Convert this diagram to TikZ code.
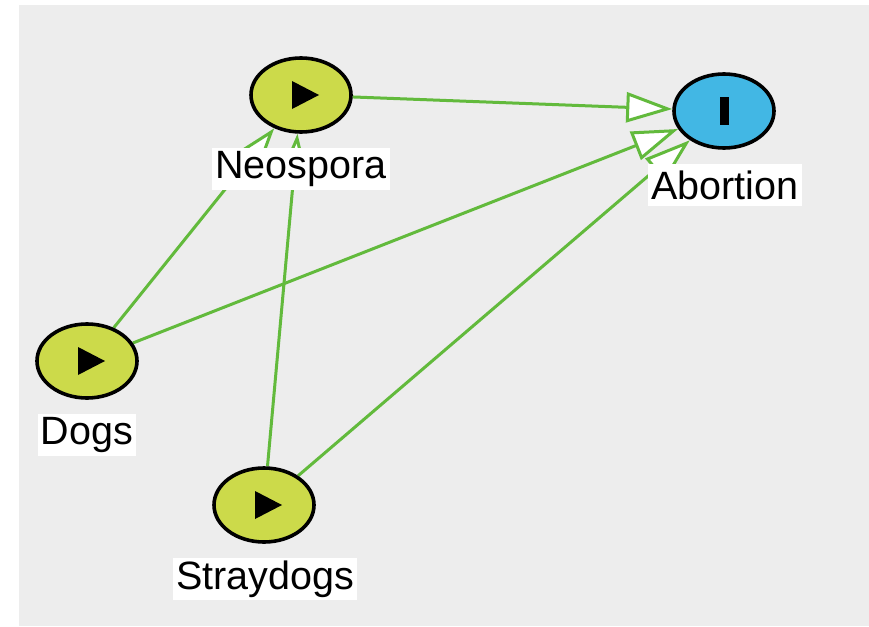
\documentclass[tikz,border=0pt]{standalone}
\usepackage{fontspec}
\setmainfont{Liberation Sans}
\usetikzlibrary{shapes.geometric,arrows.meta,backgrounds}
\definecolor{bggray}{RGB}{237,237,237}
\definecolor{edgegreen}{RGB}{98,186,60}
\definecolor{limefill}{RGB}{204,218,74}
\definecolor{skyfill}{RGB}{66,183,228}
\tikzset{
  var/.style={ellipse, draw=black, line width=3.6pt, minimum width=100pt,
    minimum height=74pt, inner sep=0pt},
  cause/.style={var, fill=limefill},
  effect/.style={var, fill=skyfill},
  tag/.style={fill=white, inner xsep=3pt, inner ysep=0pt, minimum height=42pt,
    font=\fontsize{39.5}{42}\selectfont},
  link/.style={draw=edgegreen, line width=3pt,
    -{Triangle[fill=white, length=46pt, width=30pt]}},
}
% play triangle inside a cause node
\newcommand{\playmark}[1]{%
  \fill[black,shift={(#1.center)}] (-9,-14) -- (-9,14) -- (18,0) -- cycle;}
\begin{document}
\begin{tikzpicture}[x=1pt,y=-1pt]
\useasboundingbox (0,0) rectangle (869,626);

% variables
\node[cause]  (neo)   at (301,95)  {};
\node[effect] (abort) at (724,111) {};
\node[cause]  (dogs)  at (87,361)  {};
\node[cause]  (stray) at (264,505) {};

\playmark{neo}
\playmark{dogs}
\playmark{stray}
\fill[black] ([shift={(-4.5,-14)}]abort.center) rectangle ([shift={(4.5,14)}]abort.center);

% backdrop and causal links
\begin{scope}[on background layer]
  \fill[bggray] (19,5) rectangle (869,626);
  \draw[link] (neo)   -- (abort);
  \draw[link] (dogs)  -- (abort);
  \draw[link] (stray) -- (abort);
  \draw[link] (dogs)  -- (neo);
  \draw[link] (stray) -- (neo);
\end{scope}

% labels
\node[tag] (neo-l)   at (301,169) {Neospora};
\node[tag] (abort-l) at (725,185) {Abortion};
\node[tag] (dogs-l)  at (87,435)  {Dogs};
\node[tag] (stray-l) at (265,579) {Straydogs};
\end{tikzpicture}
\end{document}
